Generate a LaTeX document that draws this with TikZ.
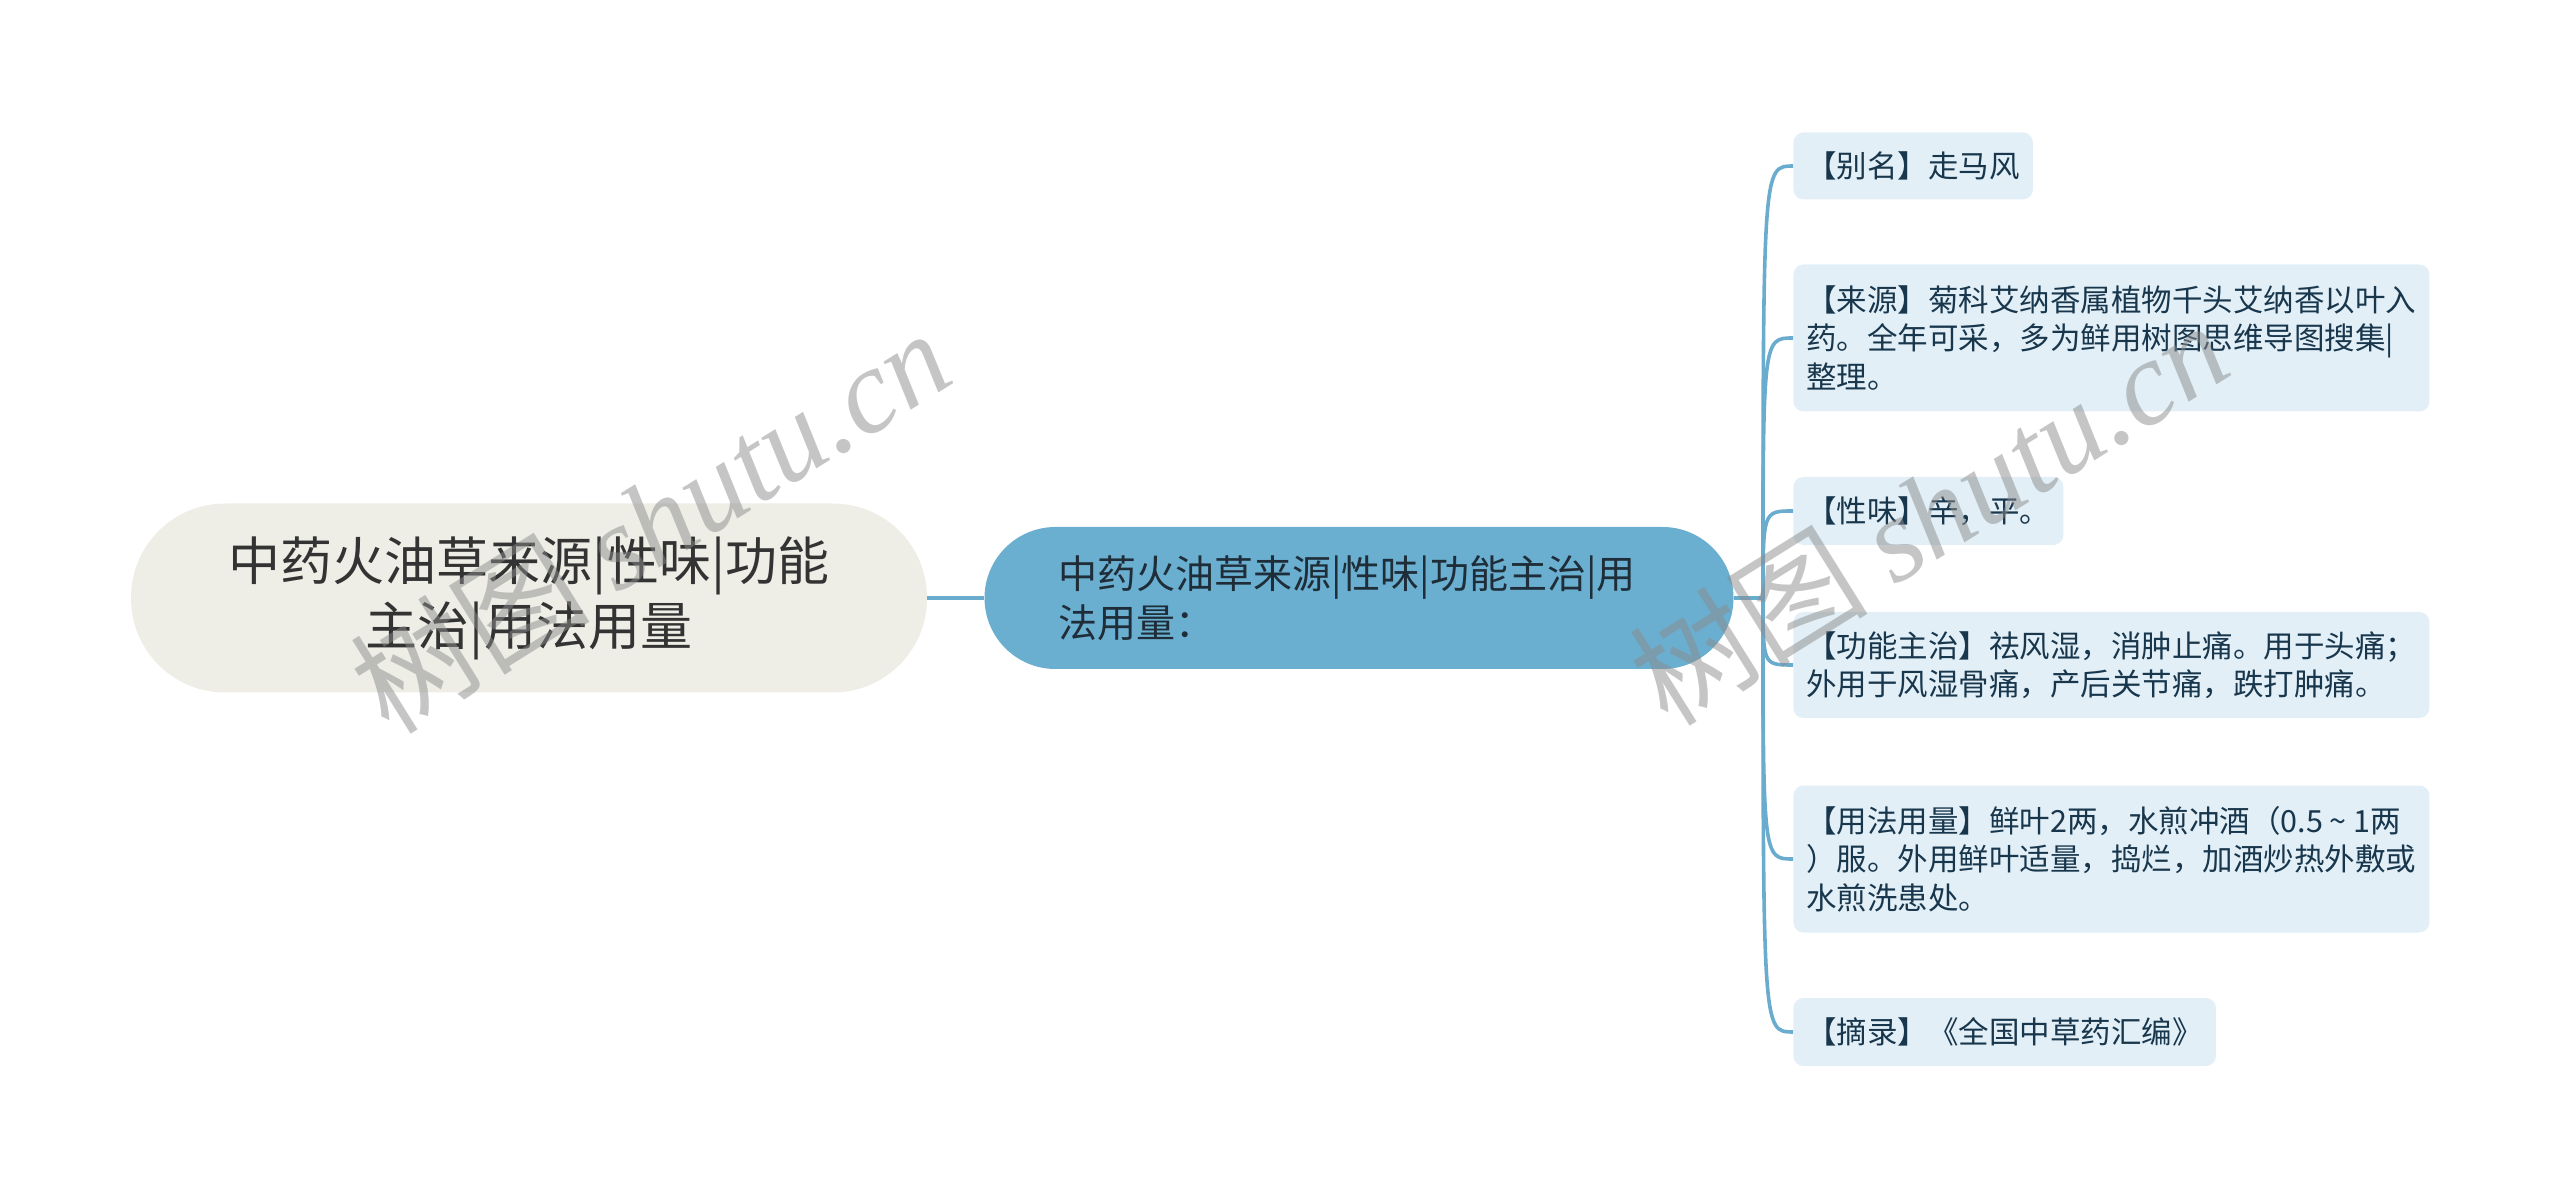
\documentclass[tikz,border=0pt]{standalone}
\usepackage{fontspec}
\setmainfont{Noto Sans CJK SC}
\newfontfamily\wmlatin{Liberation Serif}
\definecolor{rootfill}{RGB}{238,238,230}
\definecolor{roottext}{RGB}{51,51,51}
\definecolor{topicfill}{RGB}{106,174,208}
\definecolor{topictext}{RGB}{30,45,56}
\definecolor{leaffill}{RGB}{226,239,247}
\definecolor{leaftext}{RGB}{24,54,76}
\definecolor{linkblue}{RGB}{106,172,206}
\begin{document}
\begin{tikzpicture}[x=0.5pt,y=-0.5pt,
    root/.style={fill=rootfill,rounded corners=47pt,minimum width=398pt,minimum height=94.5pt,
      align=center,text=roottext,font=\fontsize{26}{32.5}\selectfont},
    topic/.style={fill=topicfill,rounded corners=35.5pt,minimum width=374.5pt,minimum height=71pt,
      text width=301pt,align=left,text=topictext,font=\fontsize{19.5}{24.5}\selectfont},
    leaf/.style={fill=leaffill,rounded corners=5pt,inner xsep=6.5pt,inner ysep=0pt,anchor=west,
      align=left,text=leaftext,font=\fontsize{15.25}{19.2}\selectfont},
    wide/.style={text width=305pt},
    link/.style={draw=linkblue,line width=1.8pt},
    watermark/.style={text=black!45,opacity=0.5,font=\fontsize{60}{62}\selectfont}]
  \useasboundingbox (0,0) rectangle (2560,1197);
  \draw
    (529,598) node[root] (root){中药火油草来源|性味|功能\\主治|用法用量}
    (1359,598) node[topic] (topic){中药火油草来源|性味|功能主治|用\\法用量：}
    (1793,166) node[leaf,minimum height=33.5pt] (alias){【别名】走马风}
    (1793,338) node[leaf,wide,minimum height=73.5pt] (source){【来源】菊科艾纳香属植物千头艾纳香以叶入\\药。全年可采，多为鲜用树图思维导图搜集|\\整理。}
    (1793,511) node[leaf,minimum height=34pt] (taste){【性味】辛，平。}
    (1793,665) node[leaf,wide,minimum height=53pt] (effect){【功能主治】祛风湿，消肿止痛。用于头痛；\\外用于风湿骨痛，产后关节痛，跌打肿痛。}
    (1793,859) node[leaf,wide,minimum height=73.5pt] (usage){【用法用量】鲜叶2两，水煎冲酒（0.5\makebox[1em]{\textasciitilde}1两\\）服。外用鲜叶适量，捣烂，加酒炒热外敷或\\水煎洗患处。}
    (1793,1032) node[leaf,minimum height=34pt] (excerpt){【摘录】《全国中草药汇编》};
  \coordinate (fork) at (1763,598);
  \begin{scope}[link]
    \draw (root) to (topic);
    \draw (topic.east) -- (fork);
    \draw (fork) .. controls (fork |- alias) and (fork |- alias) .. (alias.west);
    \draw (fork) .. controls (fork |- source) and (fork |- source) .. (source.west);
    \draw (fork) .. controls (fork |- taste) and (fork |- taste) .. (taste.west);
    \draw (fork) .. controls (fork |- effect) and (fork |- effect) .. (effect.west);
    \draw (fork) .. controls (fork |- usage) and (fork |- usage) .. (usage.west);
    \draw (fork) .. controls (fork |- excerpt) and (fork |- excerpt) .. (excerpt.west);
  \end{scope}
  \node[watermark,rotate=32] (wmleft) at (650,520) {树图 {\wmlatin\itshape shutu.cn}};
  \node[watermark,rotate=32] (wmright) at (1928,512) {树图 {\wmlatin\itshape shutu.cn}};
\end{tikzpicture}
\end{document}
